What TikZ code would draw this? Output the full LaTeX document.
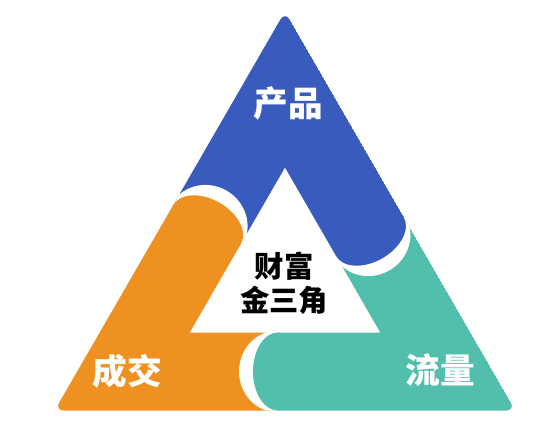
\documentclass[tikz,border=0pt]{standalone}
\usepackage{fontspec}
\newfontfamily\cjk{Noto Sans CJK SC}
\definecolor{prodblue}{RGB}{58,91,190}
\definecolor{dealorange}{RGB}{238,145,33}
\definecolor{flowteal}{RGB}{82,191,173}
\tikzset{
  bandtext/.style={text=white, font=\cjk\bfseries\fontsize{26}{30}\selectfont},
  coretext/.style={align=center, font=\cjk\bfseries\fontsize{22}{25.5}\selectfont}
}
\begin{document}
\begin{tikzpicture}[x=0.75pt,y=0.75pt,yscale=-1,xscale=1]
\useasboundingbox (0,0) rectangle (553,435);
\begin{scope}
\clip[rounded corners=7pt] (285,11.5) -- (515.4,410.5) -- (54.6,410.5) -- cycle;
% the three bands
\foreach \ang/\col in {0/flowteal,120/dealorange,240/prodblue}{
  \fill[\col, shift={(285,277.5)}, rotate=\ang] (-7,133) -- (230.4,133) -- (118.7,-60.4) -- (51.2,-21.4) -- (95.26,55) -- (-7,55) -- cycle;
}
% rounded ends, with a white gap
\foreach \ang/\col in {0/flowteal,120/dealorange,240/prodblue}{
  \begin{scope}[shift={(285,277.5)}, rotate=\ang]
    \fill[white] (-7,53) arc[start angle=270, end angle=90, x radius=39, y radius=41] -- cycle;
    \fill[\col] (-7,94) ellipse [x radius=25, y radius=39];
  \end{scope}
}
\end{scope}
\node[bandtext] (prod) at (288.5,103.5) {产品};
\node[bandtext] (deal) at (127.5,371) {成交};
\node[bandtext] (flow) at (440,370) {流量};
\node[coretext] (core) at (284,283.5) {财富\\金三角};
\end{tikzpicture}
\end{document}
